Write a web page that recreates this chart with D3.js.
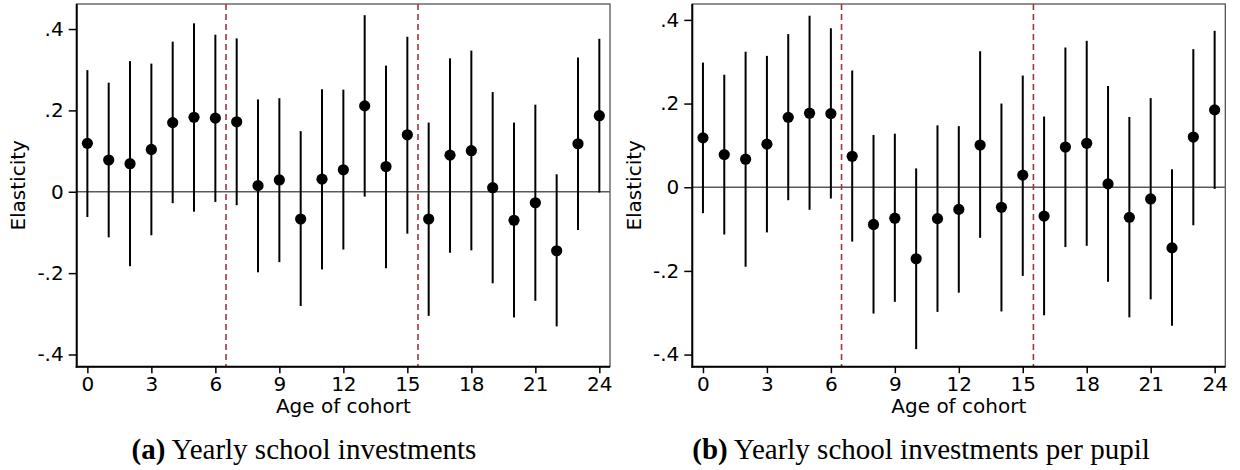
<!DOCTYPE html>
<html><head><meta charset="utf-8">
<script src="https://cdn.jsdelivr.net/npm/d3@7"></script>
<style>
body{margin:0;background:#fff;}
svg{display:block;}
</style></head><body>
<svg id="c" width="1240" height="470"></svg>
<script>
const ages = d3.range(0,25);
const xTicks = [0,3,6,9,12,15,18,21,24];
const yTicks = [0.4,0.2,0,-0.2,-0.4];
const yTickLabels = [".4",".2","0","-.2","-.4"];
const cutoffs = [6.5,15.5];

// Panel (a): Yearly school investments
const estA = [0.119,0.078,0.069,0.104,0.170,0.183,0.181,0.172,0.015,0.029,-0.067,0.031,0.054,0.211,0.062,0.140,-0.067,0.090,0.101,0.010,-0.070,-0.027,-0.145,0.118,0.187];
const hiA  = [0.299,0.268,0.321,0.315,0.369,0.414,0.386,0.377,0.227,0.230,0.149,0.252,0.251,0.434,0.310,0.381,0.170,0.328,0.347,0.245,0.170,0.214,0.043,0.330,0.376];
const loA  = [-0.062,-0.112,-0.183,-0.107,-0.028,-0.049,-0.025,-0.033,-0.198,-0.173,-0.281,-0.191,-0.142,-0.012,-0.188,-0.103,-0.305,-0.150,-0.144,-0.225,-0.309,-0.268,-0.331,-0.094,-0.002];

// Panel (b): Yearly school investments per pupil
const estB = [0.118,0.078,0.067,0.103,0.167,0.177,0.176,0.074,-0.089,-0.074,-0.171,-0.075,-0.053,0.101,-0.048,0.029,-0.069,0.096,0.105,0.008,-0.072,-0.028,-0.145,0.120,0.185];
const hiB  = [0.298,0.269,0.324,0.314,0.366,0.410,0.380,0.279,0.125,0.128,0.045,0.148,0.146,0.325,0.200,0.267,0.169,0.334,0.350,0.242,0.168,0.213,0.043,0.330,0.374];
const loB  = [-0.062,-0.113,-0.190,-0.108,-0.031,-0.054,-0.027,-0.130,-0.302,-0.274,-0.387,-0.298,-0.252,-0.121,-0.297,-0.212,-0.306,-0.143,-0.140,-0.226,-0.311,-0.268,-0.331,-0.091,-0.004];

const captionsTag = ["(a)","(b)"];
const captionsText = ["Yearly school investments","Yearly school investments per pupil"];

const svg = d3.select("#c");
const SANS = "'DejaVu Sans', sans-serif";
const SERIF = "'Liberation Serif', 'DejaVu Serif', serif";

const panels = [
  {est:estA, hi:hiA, lo:loA, x0:76.7, x1:610, ydom:[-0.430,0.4615], ylabX:25, capX:304},
  {est:estB, hi:hiB, lo:loB, x0:692.3, x1:1225.3, ydom:[-0.429,0.438], ylabX:641, capX:921}
];
const yTop=4, yBot=366.7;

panels.forEach((p,i)=>{
  const x = d3.scaleLinear().domain([-0.5,24.5]).range([p.x0,p.x1]);
  const y = d3.scaleLinear().domain(p.ydom).range([yBot,yTop]);
  const g = svg.append("g");

  g.append("rect").attr("x",p.x0).attr("y",yTop).attr("width",p.x1-p.x0).attr("height",yBot-yTop)
    .attr("fill","none").attr("stroke","#555").attr("stroke-width",1.3);

  g.append("line").attr("x1",p.x0).attr("x2",p.x1).attr("y1",y(0)).attr("y2",y(0))
    .attr("stroke","#5a5a5a").attr("stroke-width",1.5);

  g.selectAll(".cut").data(cutoffs).join("line")
    .attr("x1",d=>x(d)).attr("x2",d=>x(d)).attr("y1",yTop).attr("y2",yBot)
    .attr("stroke","#a3343f").attr("stroke-width",1.6).attr("stroke-dasharray","6,4");

  g.selectAll(".eb").data(ages).join("line")
    .attr("x1",d=>x(d)).attr("x2",d=>x(d)).attr("y1",d=>y(p.hi[d])).attr("y2",d=>y(p.lo[d]))
    .attr("stroke","#000").attr("stroke-width",2);

  g.selectAll(".pt").data(ages).join("circle")
    .attr("cx",d=>x(d)).attr("cy",d=>y(p.est[d])).attr("r",5.6).attr("fill","#000");

  const yAxis = d3.axisLeft(y).tickValues(yTicks).tickSize(8).tickPadding(5)
    .tickFormat((d,k)=>yTickLabels[k]);
  const ya = g.append("g").attr("transform",`translate(${p.x0},0)`).call(yAxis);
  ya.select(".domain").attr("stroke","#000").attr("stroke-width",2).attr("d",`M0,${yTop}V${yBot+1}`);
  ya.selectAll(".tick line").attr("stroke","#000").attr("stroke-width",1.5);
  ya.selectAll(".tick text").style("font-size","20px").style("font-family",SANS).attr("fill","#000");

  const xAxis = d3.axisBottom(x).tickValues(xTicks).tickSize(6.5).tickPadding(4);
  const xa = g.append("g").attr("transform",`translate(0,${yBot})`).call(xAxis);
  xa.select(".domain").attr("stroke","#000").attr("stroke-width",2).attr("d",`M${p.x0-1},0H${p.x1}`);
  xa.selectAll(".tick line").attr("stroke","#000").attr("stroke-width",1.5);
  xa.selectAll(".tick text").style("font-size","20px").style("font-family",SANS).attr("fill","#000");

  g.append("text").attr("x",(p.x0+p.x1)/2).attr("y",413).attr("text-anchor","middle")
    .style("font-family",SANS).style("font-size","20px").text("Age of cohort");
  g.append("text").attr("transform",`translate(${p.ylabX},${(yTop+yBot)/2}) rotate(-90)`)
    .attr("text-anchor","middle").style("font-family",SANS).style("font-size","20px").text("Elasticity");

  const cap = g.append("text").attr("x",p.capX).attr("y",459).attr("text-anchor","middle")
    .style("font-family",SERIF).style("font-size","29px");
  cap.append("tspan").style("font-weight","bold").text(captionsTag[i]);
  cap.append("tspan").text(" " + captionsText[i]);
});
</script>
</body></html>
